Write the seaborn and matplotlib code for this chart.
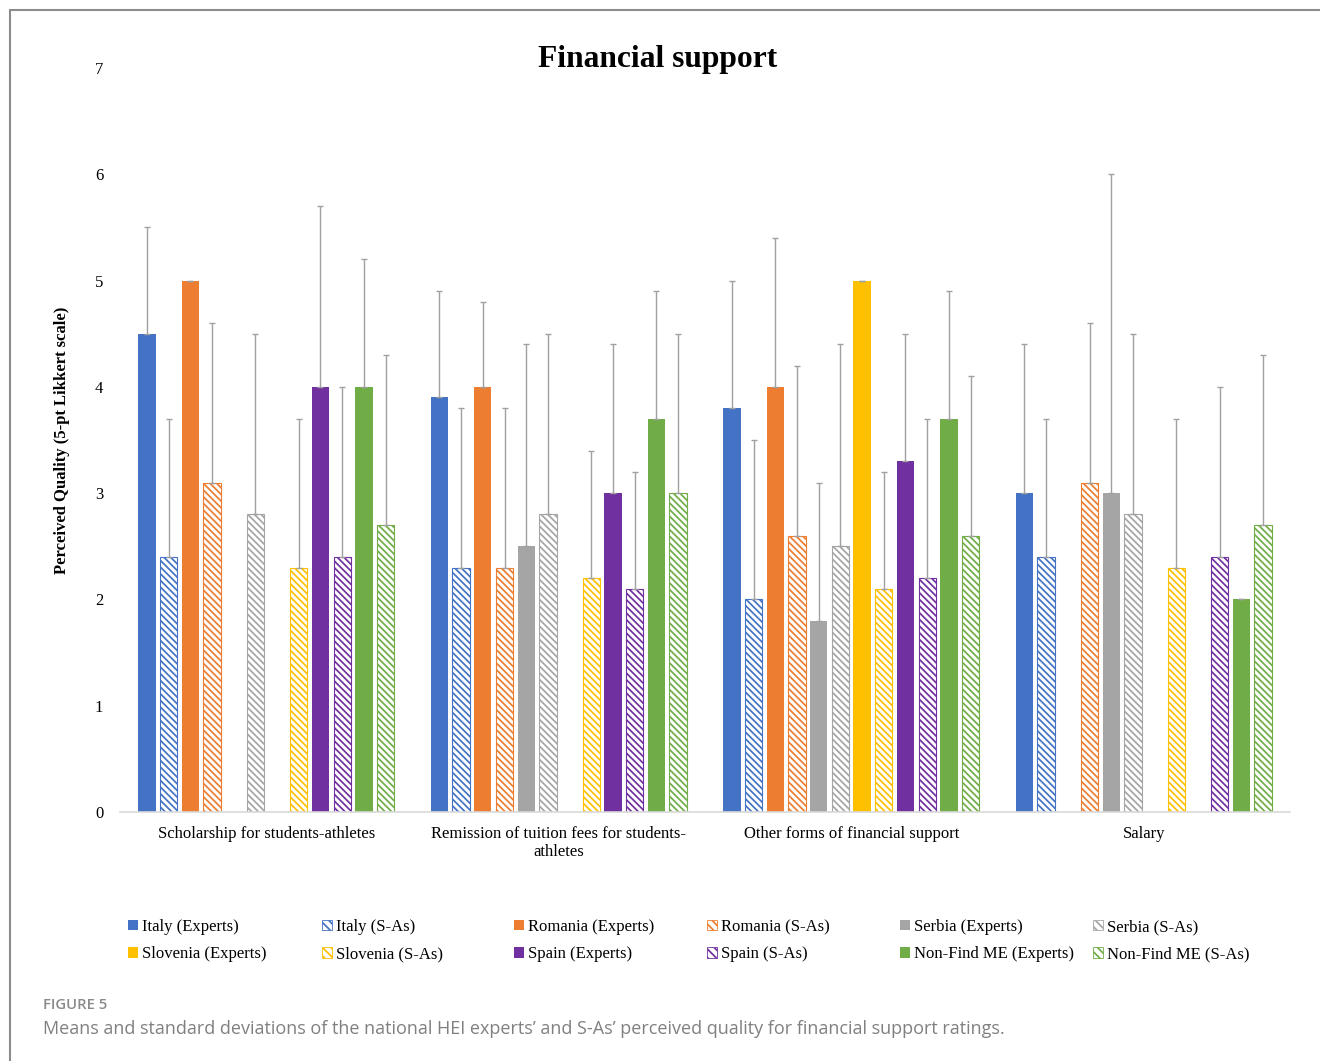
import numpy as np
import pandas as pd
import matplotlib
matplotlib.use("Agg")
import matplotlib.pyplot as plt
import matplotlib.patches as mpatches
import matplotlib.lines as mlines
import seaborn as sns

nan = np.nan

categories = ["Scholarship for students-athletes",
              "Remission of tuition fees for students-\nathletes",
              "Other forms of financial support",
              "Salary"]

series = ["Italy (Experts)", "Italy (S-As)",
          "Romania (Experts)", "Romania (S-As)",
          "Serbia (Experts)", "Serbia (S-As)",
          "Slovenia (Experts)", "Slovenia (S-As)",
          "Spain (Experts)", "Spain (S-As)",
          "Non-Find ME (Experts)", "Non-Find ME (S-As)"]

series_colors = ["#4472C4", "#4472C4", "#ED7D31", "#ED7D31",
                 "#A5A5A5", "#A5A5A5", "#FFC000", "#FFC000",
                 "#7030A0", "#7030A0", "#70AD47", "#70AD47"]

mean_scholarship = [4.5, 2.4, 5.0, 3.1, nan, 2.8, nan, 2.3, 4.0, 2.4, 4.0, 2.7]
sd_scholarship   = [1.0, 1.3, 0.0, 1.5, nan, 1.7, nan, 1.4, 1.7, 1.6, 1.2, 1.6]
mean_remission   = [3.9, 2.3, 4.0, 2.3, 2.5, 2.8, nan, 2.2, 3.0, 2.1, 3.7, 3.0]
sd_remission     = [1.0, 1.5, 0.8, 1.5, 1.9, 1.7, nan, 1.2, 1.4, 1.1, 1.2, 1.5]
mean_other       = [3.8, 2.0, 4.0, 2.6, 1.8, 2.5, 5.0, 2.1, 3.3, 2.2, 3.7, 2.6]
sd_other         = [1.2, 1.5, 1.4, 1.6, 1.3, 1.9, 0.0, 1.1, 1.2, 1.5, 1.2, 1.5]
mean_salary      = [3.0, 2.4, nan, 3.1, 3.0, 2.8, nan, 2.3, nan, 2.4, 2.0, 2.7]
sd_salary        = [1.4, 1.3, nan, 1.5, 3.0, 1.7, nan, 1.4, nan, 1.6, 0.0, 1.6]

y_ticks = [0, 1, 2, 3, 4, 5, 6, 7]

means = [mean_scholarship, mean_remission, mean_other, mean_salary]
sds = [sd_scholarship, sd_remission, sd_other, sd_salary]

rows = []
for ci, cat in enumerate(categories):
    for si, s in enumerate(series):
        rows.append({"category": cat, "series": s,
                     "mean": means[ci][si], "sd": sds[ci][si]})
df = pd.DataFrame(rows)

sns.set_theme(style="white")
plt.rcParams["font.family"] = ["Liberation Serif", "DejaVu Serif"]
plt.rcParams["hatch.linewidth"] = 1.25
plt.rcParams["text.color"] = "black"
plt.rcParams["xtick.color"] = "black"
plt.rcParams["ytick.color"] = "black"
plt.rcParams["axes.labelcolor"] = "black"

fig = plt.figure(figsize=(13.2, 10.61), dpi=100)
ax = fig.add_axes([120 / 1320, 1 - 812 / 1061, 1170 / 1320, (812 - 68) / 1061])

palette = dict(zip(series, series_colors))
sns.barplot(data=df.dropna(subset=["mean"]), x="category", y="mean", hue="series",
            order=categories, hue_order=series, palette=palette,
            errorbar=None, width=0.89, gap=0.2, saturation=1, ax=ax,
            legend=False, linewidth=0)

hatch = "\\\\\\\\\\"
bar_containers = list(ax.containers)
for si, cont in enumerate(bar_containers):
    col = series_colors[si]
    is_sa = si % 2 == 1
    for p in cont.patches:
        cx = p.get_x() + p.get_width() / 2
        ci = int(round(cx))
        h = p.get_height()
        if is_sa:
            p.set_facecolor("white")
            p.set_edgecolor(col)
            p.set_hatch(hatch)
            p.set_linewidth(0.8)
        sd = sds[ci][si]
        if not np.isnan(sd):
            ax.errorbar([cx], [h], yerr=[[0], [sd]], fmt="none",
                        ecolor="#a0a0a0", elinewidth=1.0, capsize=2.0,
                        capthick=1.0, zorder=3)

ax.set_ylim(0, 7)
ax.set_xlim(-0.5, 3.5)
ax.set_yticks(y_ticks)
ax.set_yticklabels([str(t) for t in y_ticks], fontsize=12)
ax.tick_params(axis="y", length=0, pad=12)
ax.tick_params(axis="x", length=0, pad=10, labelsize=12)
for lab in ax.get_xticklabels():
    lab.set_multialignment("center")
ax.set_xlabel("")
ax.set_ylabel("Perceived Quality (5-pt Likkert scale)", fontsize=12,
              fontweight="bold", labelpad=18)
for sp in ["left", "right", "top"]:
    ax.spines[sp].set_visible(False)
ax.spines["bottom"].set_color("#d9d9d9")
ax.spines["bottom"].set_linewidth(1.2)

fig.text(658 / 1320, 1 - 59 / 1061, "Financial support", ha="center",
         va="center", fontsize=22.7, fontweight="bold", color="black")

# legend: six columns, two rows
col_x = [128, 322, 514, 707, 900, 1093]
for j in range(6):
    hs = []
    for si in (j, j + 6):
        if si % 2 == 1:
            hs.append(mpatches.Patch(facecolor="white", edgecolor=series_colors[si],
                                     hatch="\\\\\\\\", linewidth=0.6,
                                     label=series[si]))
        else:
            hs.append(mpatches.Patch(facecolor=series_colors[si],
                                     edgecolor=series_colors[si], linewidth=0,
                                     label=series[si]))
    fig.legend(handles=hs, loc="upper left",
               bbox_to_anchor=(col_x[j] / 1320, 1 - 919 / 1061),
               frameon=False, fontsize=12, handlelength=0.6, handleheight=0.6,
               handletextpad=0.25, labelspacing=0.68, borderpad=0,
               borderaxespad=0)

# frame lines
fig.add_artist(mlines.Line2D([10 / 1320, 1.0], [1 - 10 / 1061, 1 - 10 / 1061],
                             color="#8c8c8c", lw=1.5, transform=fig.transFigure))
fig.add_artist(mlines.Line2D([10 / 1320, 10 / 1320], [0, 1 - 10 / 1061],
                             color="#8c8c8c", lw=1.5, transform=fig.transFigure))

fig.text(43 / 1320, 1 - 1005 / 1061, "FIGURE 5", ha="left", va="center",
         fontsize=10.7, fontweight="semibold", color="#8a8a8a",
         family=["Open Sans", "DejaVu Sans"])
fig.text(43 / 1320, 1 - 1029 / 1061,
         "Means and standard deviations of the national HEI experts\u2019 and S-As\u2019 perceived quality for financial support ratings.",
         ha="left", va="center", fontsize=13.0, color="#808080",
         family=["Open Sans", "DejaVu Sans"])

fig.savefig("out.png", dpi=100)
